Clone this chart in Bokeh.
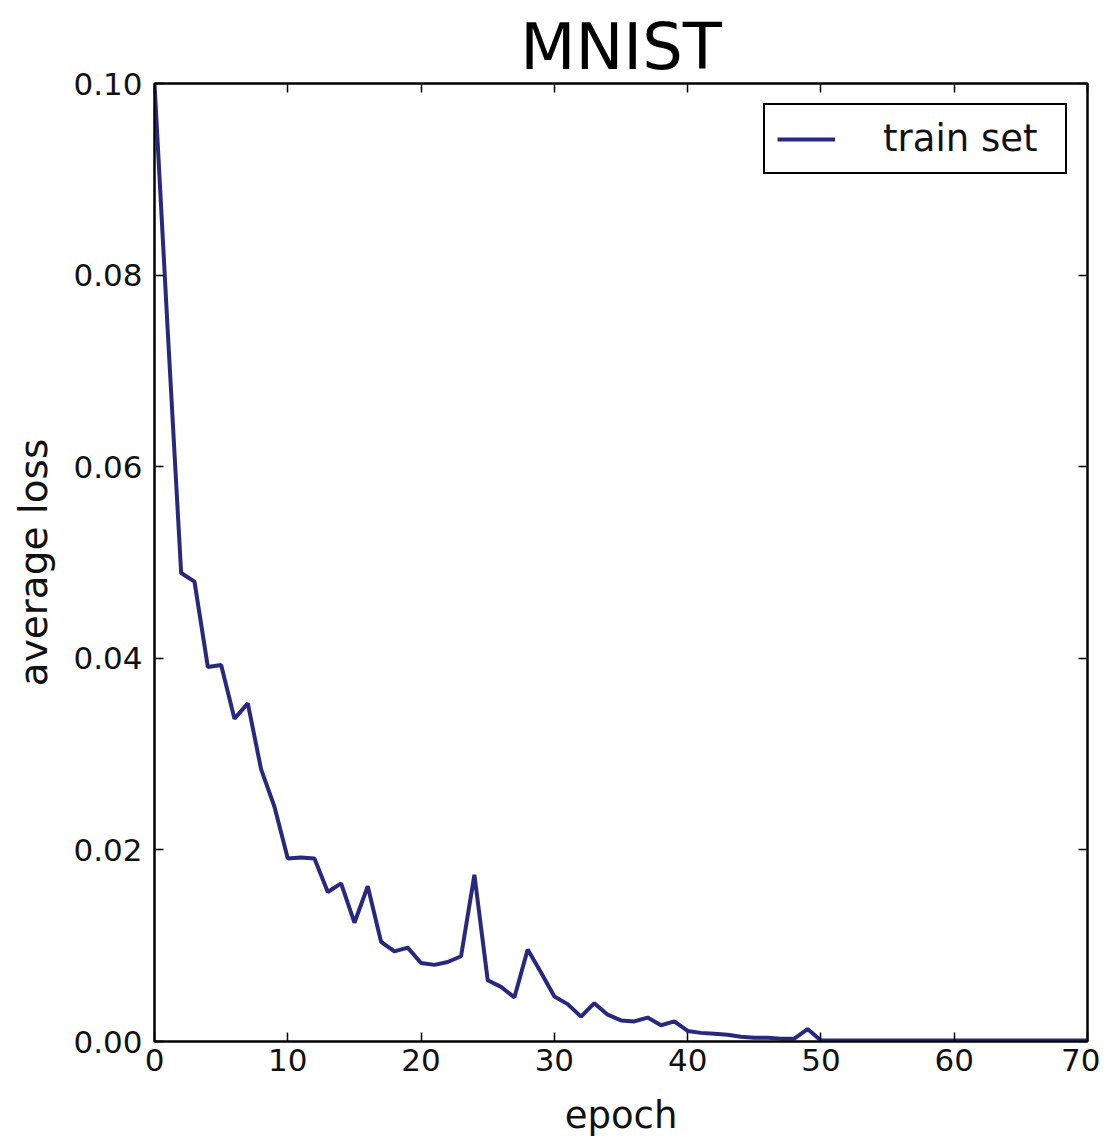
from bokeh.plotting import figure
from bokeh.models import (Range1d, LinearAxis, FixedTicker, NumeralTickFormatter,
                          CustomJSTickFormatter, Legend, LegendItem, ColumnDataSource)
from bokeh.embed import file_html
from bokeh.resources import INLINE

# ---- data ----
epochs = list(range(0, 71))
avg_loss = [
    0.1000, 0.0740, 0.0489, 0.0480, 0.0391, 0.0393, 0.0337, 0.0353, 0.0284, 0.0245,
    0.0191, 0.0192, 0.0191, 0.0156, 0.0165, 0.0124, 0.0162, 0.0104, 0.0094, 0.0098,
    0.0082, 0.0080, 0.0083, 0.0089, 0.0174, 0.0064, 0.0057, 0.0046, 0.0096, 0.0072,
    0.0047, 0.0039, 0.0026, 0.0040, 0.0028, 0.0022, 0.0021, 0.0025, 0.0017, 0.0021,
    0.0011, 0.0009, 0.0008, 0.0007, 0.0005, 0.0004, 0.0004, 0.0003, 0.0003, 0.0013,
    0.0001, 0.0001, 0.0001, 0.0001, 0.0001, 0.0001, 0.0001, 0.0001, 0.0001, 0.0001,
    0.0001, 0.0001, 0.0001, 0.0001, 0.0001, 0.0001, 0.0001, 0.0001, 0.0001, 0.0001,
    0.0001,
]
x_ticks = [0, 10, 20, 30, 40, 50, 60, 70]
y_ticks = [0.00, 0.02, 0.04, 0.06, 0.08, 0.10]
title_text = "MNIST"
x_label = "epoch"
y_label = "average loss"
series_name = "train set"

FONT = "DejaVu Sans"
LINE_COLOR = "#28287f"

p = figure(width=1100, height=1139, output_backend="svg", toolbar_location=None,
           x_range=Range1d(0, 70), y_range=Range1d(0, 0.10),
           min_border_left=154, min_border_right=13, min_border_top=83,
           min_border_bottom=98, x_axis_label=x_label, y_axis_label=y_label,
           title=title_text)
p.background_fill_color = "white"
p.border_fill_color = "white"
p.outline_line_color = "black"
p.outline_line_width = 2
p.grid.visible = False

p.title.text_font = FONT
p.title.text_font_size = "64px"
p.title.text_font_style = "normal"
p.title.text_color = "black"
p.title.align = "center"
p.title.standoff = 0
p.title.offset = -8

for ax in (p.xaxis[0], p.yaxis[0]):
    ax.major_tick_in = 9
    ax.major_tick_out = 0
    ax.minor_tick_line_color = None
    ax.axis_line_width = 2
    ax.major_tick_line_width = 1.5
    ax.major_label_text_font = FONT
    ax.major_label_text_font_size = "31px"
    ax.major_label_text_color = "#111111"
    ax.axis_label_text_font = FONT
    ax.axis_label_text_font_style = "normal"
    ax.axis_label_text_color = "#111111"

p.xaxis[0].axis_label_text_font_size = "37px"
p.yaxis[0].axis_label_text_font_size = "39px"
p.xaxis[0].ticker = FixedTicker(ticks=x_ticks)
p.yaxis[0].ticker = FixedTicker(ticks=y_ticks)
p.yaxis[0].formatter = NumeralTickFormatter(format="0.00")
p.xaxis[0].major_label_standoff = 7
p.yaxis[0].major_label_standoff = 12
p.xaxis[0].axis_label_standoff = 20
p.yaxis[0].axis_label_standoff = 14

# mirrored ticks on top and right (no labels)
blank = CustomJSTickFormatter(code="return ''")
top = LinearAxis(ticker=FixedTicker(ticks=x_ticks), formatter=blank,
                 major_tick_in=9, major_tick_out=0, minor_tick_line_color=None,
                 axis_line_width=2, major_tick_line_width=1.5,
                 major_label_standoff=0)
right = LinearAxis(ticker=FixedTicker(ticks=y_ticks), formatter=blank,
                   major_tick_in=9, major_tick_out=0, minor_tick_line_color=None,
                   axis_line_width=2, major_tick_line_width=1.5,
                   major_label_standoff=0)
p.add_layout(top, "above")
p.add_layout(right, "right")

src = ColumnDataSource(data=dict(x=epochs, y=avg_loss))
r = p.line("x", "y", source=src, line_color=LINE_COLOR, line_width=4)

legend = Legend(items=[LegendItem(label=series_name, renderers=[r])],
                location="top_right", margin=20, padding=12,
                glyph_width=58, label_standoff=48,
                label_text_font=FONT, label_text_font_size="37px",
                label_text_color="#111111", label_width=170,
                border_line_color="black", border_line_width=2, border_line_alpha=1.0,
                background_fill_color="white", background_fill_alpha=1.0)
p.add_layout(legend)

open("out.html", "w").write(file_html(p, INLINE))
